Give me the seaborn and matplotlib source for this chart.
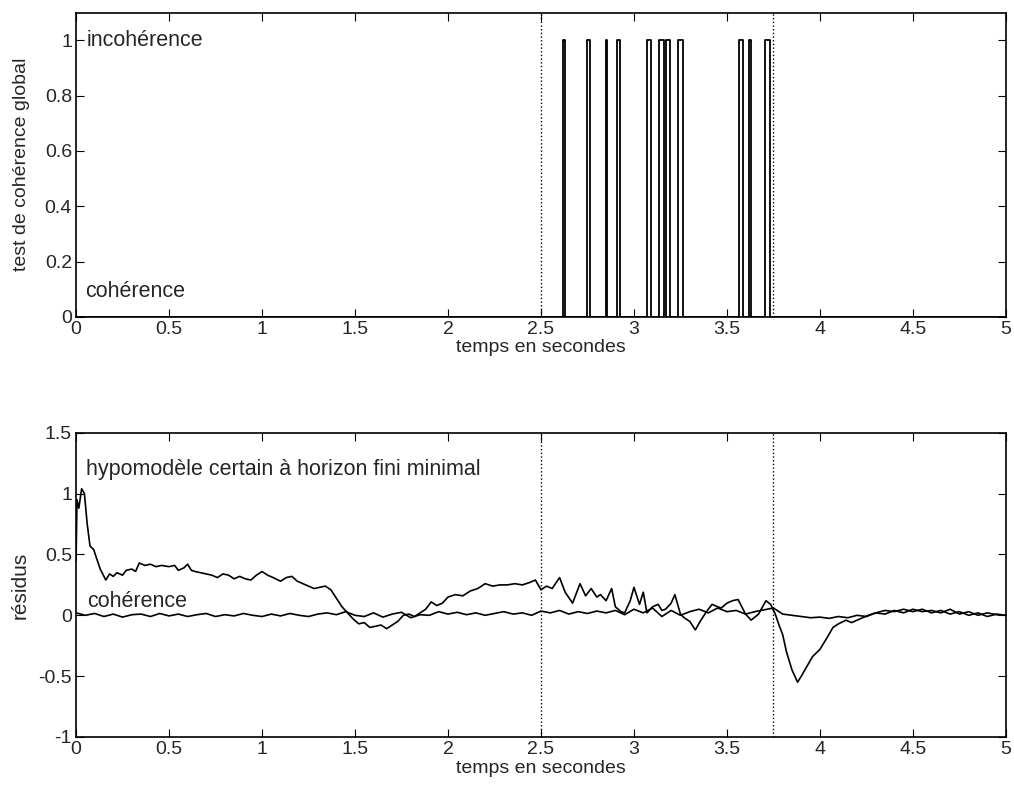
import numpy as np
import pandas as pd
import matplotlib
matplotlib.use("Agg")
import matplotlib.pyplot as plt
import seaborn as sns

# --- data ---
# top panel: global coherence test, 1 = incoherence (pulse start / end in seconds)
pulse_start = [2.620, 2.745, 2.850, 2.911, 3.068, 3.137, 3.173, 3.237, 3.567, 3.617, 3.703]
pulse_end = [2.631, 2.764, 2.857, 2.925, 3.094, 3.162, 3.194, 3.262, 3.588, 3.628, 3.729]

# bottom panel: residual of the minimal finite-horizon certain hypomodel
hyp_points = [
    (0.0, 0.45), (0.005, 0.95), (0.015, 0.88), (0.03, 1.04), (0.045, 1.0),
    (0.06, 0.75), (0.075, 0.57), (0.095, 0.54), (0.11, 0.47), (0.13, 0.38),
    (0.15, 0.32), (0.16, 0.29), (0.18, 0.34), (0.2, 0.32), (0.22, 0.35),
    (0.25, 0.33), (0.27, 0.37), (0.3, 0.38), (0.32, 0.36), (0.34, 0.43),
    (0.37, 0.41), (0.4, 0.42), (0.43, 0.40), (0.46, 0.41), (0.5, 0.40),
    (0.53, 0.41), (0.55, 0.37), (0.58, 0.39), (0.6, 0.42), (0.62, 0.37),
    (0.64, 0.36), (0.67, 0.35), (0.7, 0.34), (0.73, 0.33), (0.76, 0.31),
    (0.79, 0.34), (0.82, 0.33), (0.85, 0.30), (0.88, 0.32), (0.91, 0.30),
    (0.94, 0.29), (0.97, 0.33), (1.0, 0.36), (1.03, 0.33), (1.06, 0.31),
    (1.1, 0.28), (1.13, 0.31), (1.16, 0.32), (1.19, 0.28), (1.22, 0.26),
    (1.25, 0.24), (1.28, 0.22), (1.31, 0.23), (1.34, 0.24), (1.37, 0.21),
    (1.4, 0.14), (1.43, 0.07), (1.46, 0.02), (1.49, -0.03), (1.52, -0.07),
    (1.55, -0.06), (1.58, -0.10), (1.61, -0.09), (1.64, -0.08), (1.67, -0.11),
    (1.7, -0.08), (1.73, -0.05), (1.76, 0.0), (1.79, 0.01), (1.82, -0.01),
    (1.85, 0.02), (1.88, 0.05), (1.91, 0.11), (1.94, 0.08), (1.97, 0.10),
    (2.0, 0.15), (2.04, 0.17), (2.08, 0.16), (2.12, 0.20), (2.16, 0.22),
    (2.2, 0.26), (2.24, 0.24), (2.28, 0.25), (2.32, 0.25), (2.36, 0.26),
    (2.4, 0.25), (2.44, 0.27), (2.47, 0.29), (2.5, 0.21), (2.53, 0.24),
    (2.56, 0.22), (2.6, 0.31), (2.63, 0.19), (2.67, 0.10), (2.71, 0.26),
    (2.74, 0.16), (2.77, 0.22), (2.8, 0.15), (2.82, 0.17), (2.85, 0.12),
    (2.88, 0.22), (2.9, 0.07), (2.93, 0.03), (2.95, 0.02), (2.98, 0.12),
    (3.0, 0.23), (3.03, 0.09), (3.05, 0.19), (3.07, 0.02), (3.1, 0.07),
    (3.13, 0.09), (3.15, 0.04), (3.17, 0.05), (3.2, 0.10), (3.22, 0.17),
    (3.25, 0.01), (3.27, -0.02), (3.3, -0.05), (3.33, -0.12), (3.36, -0.04),
    (3.39, 0.03), (3.42, 0.09), (3.45, 0.07), (3.47, 0.06), (3.5, 0.10),
    (3.53, 0.12), (3.56, 0.13), (3.6, 0.01), (3.63, -0.04), (3.67, 0.01),
    (3.71, 0.12), (3.735, 0.09), (3.76, 0.01), (3.78, -0.08), (3.8, -0.16),
    (3.82, -0.30), (3.85, -0.45), (3.88, -0.55), (3.9, -0.50), (3.93, -0.42),
    (3.96, -0.34), (4.0, -0.28), (4.04, -0.18), (4.07, -0.10), (4.1, -0.07),
    (4.14, -0.04), (4.17, -0.06), (4.2, -0.04), (4.23, -0.02), (4.26, 0.0),
    (4.3, 0.02), (4.35, 0.04), (4.4, 0.03), (4.45, 0.05), (4.5, 0.03),
    (4.55, 0.05), (4.6, 0.02), (4.65, 0.04), (4.7, 0.01), (4.75, 0.03),
    (4.8, 0.0), (4.85, 0.02), (4.9, -0.01), (4.95, 0.01), (5.0, 0.0),
]

# bottom panel: coherent-model residual, sampled every 0.05 s from 0 to 5 s
coh_t = np.linspace(0, 5, 101)
coh_v = [
    0.02, 0.0, 0.015, -0.01, 0.01, -0.015, 0.005, 0.01, -0.01, 0.015,
    -0.005, 0.01, -0.01, 0.005, 0.015, -0.01, 0.005, -0.005, 0.015, 0.0,
    -0.01, 0.01, -0.005, 0.015, 0.0, -0.01, 0.01, 0.02, 0.005, 0.03,
    0.0,
    -0.01, 0.02, -0.015, 0.01, 0.025, -0.02, 0.005, 0.0, 0.03, 0.01,
    0.025, 0.005, 0.02, 0.0, 0.015, 0.03, 0.01, 0.02, 0.0, 0.035,
    0.02, 0.04, 0.01, 0.03, 0.015, 0.035, 0.02, 0.04, 0.005, 0.05,
    0.02, 0.06, -0.01, 0.04, 0.0, 0.03, 0.05, 0.02, 0.06, 0.03,
    0.04, 0.01, 0.03, 0.045, 0.06,
    0.01, 0.0, -0.01, -0.02, -0.015, -0.025, -0.01, -0.02, 0.0, -0.01,
    0.02, 0.01, 0.04, 0.02, 0.05, 0.03, 0.04, 0.02, 0.05, 0.01,
    0.03, 0.0, 0.02, 0.005, 0.0,
]

fault_times = [2.5, 3.75]

# --- build tables ---
step_t = [0.0]
step_v = [0]
for s, e in zip(pulse_start, pulse_end):
    step_t += [s, s, e, e]
    step_v += [0, 1, 1, 0]
step_t.append(5.0)
step_v.append(0)
test_df = pd.DataFrame({"t": step_t, "test": step_v})
hyp_df = pd.DataFrame(hyp_points, columns=["t", "residu"])
coh_df = pd.DataFrame({"t": coh_t, "residu": coh_v})

sns.set_style("ticks")
plt.rcParams["font.family"] = ["Liberation Sans", "DejaVu Sans"]
plt.rcParams["xtick.direction"] = "in"
plt.rcParams["ytick.direction"] = "in"

fig = plt.figure(figsize=(10.14, 7.92), dpi=100)
ax1 = fig.add_axes([0.075, 0.600, 0.917, 0.384])
ax2 = fig.add_axes([0.075, 0.0695, 0.917, 0.384])

# top panel
sns.lineplot(data=test_df, x="t", y="test", sort=False, estimator=None,
             color="black", lw=1.3, ax=ax1)
for ft in fault_times:
    ax1.axvline(ft, color="black", ls=":", lw=1)
ax1.set_xlim(0, 5)
ax1.set_ylim(0, 1.1)
ax1.set_yticks([0, 0.2, 0.4, 0.6, 0.8, 1])
ax1.set_yticklabels(["0", "0.2", "0.4", "0.6", "0.8", "1"])
ax1.text(0.055, 1.0, "incohérence", fontsize=15.5, va="center")
ax1.text(0.05, 0.09, "cohérence", fontsize=15.5, va="center")
ax1.set_ylabel("test de cohérence global", fontsize=14)

# bottom panel
sns.lineplot(data=hyp_df, x="t", y="residu", sort=False, estimator=None,
             color="black", lw=1.2, ax=ax2)
sns.lineplot(data=coh_df, x="t", y="residu", sort=False, estimator=None,
             color="black", lw=1.2, ax=ax2)
for ft in fault_times:
    ax2.axvline(ft, color="black", ls=":", lw=1)
ax2.set_xlim(0, 5)
ax2.set_ylim(-1, 1.5)
ax2.set_yticks([-1, -0.5, 0, 0.5, 1, 1.5])
ax2.set_yticklabels(["-1", "-0.5", "0", "0.5", "1", "1.5"])
ax2.text(0.055, 1.2, "hypomodèle certain à horizon fini minimal", fontsize=15.5, va="center")
ax2.text(0.06, 0.11, "cohérence", fontsize=15.5, va="center")
ax2.set_ylabel("résidus", fontsize=15)

xt = [0, 0.5, 1, 1.5, 2, 2.5, 3, 3.5, 4, 4.5, 5]
for ax in (ax1, ax2):
    ax.set_xticks(xt)
    ax.set_xticklabels(["0", "0.5", "1", "1.5", "2", "2.5", "3", "3.5", "4", "4.5", "5"])
    ax.set_xlabel("temps en secondes", fontsize=14, labelpad=1)
    ax.tick_params(direction="in", top=True, right=True, length=6,
                   labelsize=14, pad=3, color="black")
    for sp in ax.spines.values():
        sp.set_visible(True)
        sp.set_color("black")
        sp.set_linewidth(1.2)
    ax.yaxis.set_label_coords(-0.05, 0.5)

fig.savefig("out.png", dpi=100)
